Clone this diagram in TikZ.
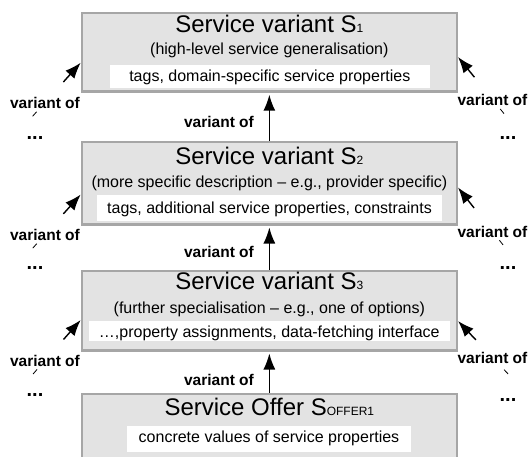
\documentclass[tikz,border=0pt]{standalone}
\usepackage{fontspec}
\setmainfont{Liberation Sans}
\usetikzlibrary{arrows.meta,calc}

\definecolor{boxgray}{HTML}{E3E3E3}
\definecolor{edgegray}{HTML}{A6A6A6}

\newcommand{\headsize}{\fontsize{24}{28}\selectfont}
\newcommand{\textsize}{\fontsize{16}{19}\selectfont}
\newcommand{\labelsize}{\fontsize{15.5}{18}\selectfont\bfseries}
\newcommand{\dotsize}{\fontsize{20}{24}\selectfont\bfseries}
\newcommand{\idx}[1]{{\fontsize{12}{12}\selectfont #1}}

\tikzstyle{variant} = [draw=edgegray, line width=2.3pt, fill=boxgray, minimum width=375pt, inner sep=0pt]
\tikzstyle{tagbox} = [fill=white, inner xsep=0pt, inner ysep=0pt, anchor=base, font=\textsize]
\tikzstyle{headtext} = [anchor=base, inner sep=0pt, font=\headsize]
\tikzstyle{subtext} = [anchor=base, inner sep=0pt, font=\textsize]
\tikzstyle{lbl} = [anchor=base, inner sep=1pt, font=\labelsize]
\tikzstyle{more} = [inner sep=0pt, font=\dotsize]
\tikzstyle{line} = [draw, line width=1.4pt, -{Latex[length=16pt,width=12pt]}]
\tikzstyle{stub} = [draw, line width=0.8pt]

\begin{document}
\begin{tikzpicture}[x=1pt,y=1pt]
	\useasboundingbox (0,0) rectangle (529,456);
	\clip (0,0) rectangle (529,456);

	% Service variant S1
	\node[variant, minimum height=78.7pt] (s1) at (269.35,403.8) {};
	\node[headtext] (h1) at (269.35,423) {Service variant S\idx{1}};
	\node[subtext] (d1) at (269.35,401.5) {(high-level service generalisation)};
	\node[tagbox, minimum width=320.5pt, text height=17.2pt, text depth=6.2pt] (g1) at (269.8,374.2) {tags, domain-specific service properties};

	% Service variant S2
	\node[variant, minimum height=82.5pt] (s2) at (269.35,272.9) {};
	\node[headtext] (h2) at (269.35,291.5) {Service variant S\idx{2}};
	\node[subtext] (d2) at (269.35,269) {(more specific description – e.g., provider specific)};
	\node[tagbox, minimum width=345pt, text height=18pt, text depth=7.5pt] (g2) at (269.5,243) {tags, additional service properties, constraints};

	% Service variant S3
	\node[variant, minimum height=79.7pt] (s3) at (269.35,145.5) {};
	\node[headtext] (h3) at (269.35,166.5) {Service variant S\idx{3}};
	\node[subtext] (d3) at (269.35,142.6) {(further specialisation – e.g., one of options)};
	\node[tagbox, minimum width=360.5pt, text height=16.6pt, text depth=3.8pt] (g3) at (269.3,118.4) {…,property assignments, data-fetching interface};

	% Service offer
	\node[variant, minimum height=76pt] (s4) at (269.35,24) {};
	\node[headtext] (h4) at (269.35,40.2) {Service Offer S\idx{OFFER1}};
	\node[tagbox, minimum width=284pt, text height=16.7pt, text depth=9.1pt] (g4) at (269,13.3) {concrete values of service properties};

	% Chain in the middle
	\node[lbl] (c1) at (219,329) {variant of};
	\node[lbl] (c2) at (219,199) {variant of};
	\node[lbl] (c3) at (219,70.5) {variant of};
	\path[line, shorten >=2pt] (s2) -- (s1);
	\path[line, shorten >=2pt] (s3) -- (s2);
	\path[line, shorten >=2pt] (s4) -- (s3);

	% Left side
	\coordinate (tipL1) at ($(s1.south west)+(0,30)$);
	\coordinate (tipL2) at ($(s2.south west)+(0,31)$);
	\coordinate (tipL3) at ($(s3.south west)+(0,31.5)$);
	\node[lbl] (l1) at (45,348) {variant of};
	\node[lbl] (l2) at (45,216) {variant of};
	\node[lbl] (l3) at (45,90) {variant of};
	\node[more] (m1) at (35,318) {...};
	\node[more] (m2) at (35,188) {...};
	\node[more] (m3) at (35,60.5) {...};
	\path[line] ($(tipL1)!26pt!(l1)$) -- (tipL1);
	\path[line] ($(tipL2)!26pt!(l2)$) -- (tipL2);
	\path[line] ($(tipL3)!26pt!(l3)$) -- (tipL3);
	\path[stub] ($(tipL1)!66pt!(l1)$) -- ($(tipL1)!72pt!(l1)$);
	\path[stub] ($(tipL2)!66pt!(l2)$) -- ($(tipL2)!72pt!(l2)$);
	\path[stub] ($(tipL3)!66pt!(l3)$) -- ($(tipL3)!72pt!(l3)$);

	% Right side
	\coordinate (tipR1) at ($(s1.south east)+(0,35.7)$);
	\coordinate (tipR2) at ($(s2.south east)+(0,38)$);
	\coordinate (tipR3) at ($(s3.south east)+(0,30.5)$);
	\node[lbl] (r1) at (492.5,351) {variant of};
	\node[lbl] (r2) at (492.5,219) {variant of};
	\node[lbl] (r3) at (492.5,93) {variant of};
	\node[more] (n1) at (508,318) {...};
	\node[more] (n2) at (508,188) {...};
	\node[more] (n3) at (508,56) {...};
	\path[line] ($(tipR1)!26pt!(r1)$) -- (tipR1);
	\path[line] ($(tipR2)!26pt!(r2)$) -- (tipR2);
	\path[line] ($(tipR3)!26pt!(r3)$) -- (tipR3);
	\path[stub] ($(tipR1)!67pt!(r1)$) -- ($(tipR1)!73pt!(r1)$);
	\path[stub] ($(tipR2)!67pt!(r2)$) -- ($(tipR2)!73pt!(r2)$);
	\path[stub] ($(tipR3)!67pt!(r3)$) -- ($(tipR3)!73pt!(r3)$);

\end{tikzpicture}
\end{document}
